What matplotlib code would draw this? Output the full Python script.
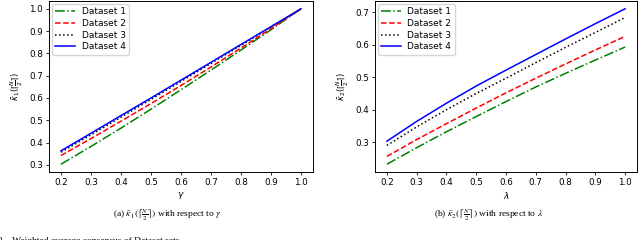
import matplotlib
matplotlib.use('Agg')
import matplotlib.pyplot as plt

plt.rcParams['mathtext.fontset'] = 'stix'

# x values
gamma = [0.2, 0.3, 0.4, 0.5, 0.6, 0.7, 0.8, 0.9, 1.0]
lam = [0.2, 0.3, 0.4, 0.5, 0.6, 0.7, 0.8, 0.9, 1.0]

# left panel: kappa_1 vs gamma
k1_d1 = [0.303, 0.383, 0.465, 0.550, 0.637, 0.725, 0.815, 0.906, 1.0]
k1_d2 = [0.342, 0.418, 0.496, 0.575, 0.656, 0.739, 0.824, 0.911, 1.0]
k1_d3 = [0.357, 0.435, 0.514, 0.594, 0.674, 0.755, 0.836, 0.918, 1.0]
k1_d4 = [0.363, 0.442, 0.521, 0.600, 0.680, 0.760, 0.840, 0.920, 1.0]

# right panel: kappa_2 vs lambda
k2_d1 = [0.232, 0.283, 0.332, 0.379, 0.425, 0.470, 0.512, 0.553, 0.593]
k2_d2 = [0.256, 0.308, 0.357, 0.405, 0.452, 0.497, 0.541, 0.584, 0.626]
k2_d3 = [0.290, 0.347, 0.400, 0.450, 0.497, 0.545, 0.592, 0.638, 0.684]
k2_d4 = [0.303, 0.364, 0.420, 0.473, 0.522, 0.570, 0.618, 0.665, 0.711]

labels = ['Dataset 1', 'Dataset 2', 'Dataset 3', 'Dataset 4']
colors = ['green', 'red', 'black', 'blue']
styles = ['-.', '--', ':', '-']

W, H = 640, 240
fig = plt.figure(figsize=(6.4, 2.4), dpi=100)
ax1 = fig.add_axes([49 / W, 1 - 172 / H, (313 - 49) / W, 171 / H])
ax2 = fig.add_axes([375 / W, 1 - 172 / H, (637 - 375) / W, 171 / H])

for ax, x, ys, xl, yl in [
    (ax1, gamma, [k1_d1, k1_d2, k1_d3, k1_d4], r'$\gamma$', r'$\bar{\kappa}_1(\lceil\frac{N}{2}\rceil)$'),
    (ax2, lam, [k2_d1, k2_d2, k2_d3, k2_d4], r'$\lambda$', r'$\bar{\kappa}_2(\lceil\frac{N}{2}\rceil)$'),
]:
    for y, lab, c, ls in zip(ys, labels, colors, styles):
        ax.plot(x, y, ls, color=c, label=lab, lw=1.1)
    ax.set_xticks([0.2, 0.3, 0.4, 0.5, 0.6, 0.7, 0.8, 0.9, 1.0])
    ax.tick_params(labelsize=6.3, length=2.5, width=0.6, pad=2)
    ax.set_xlabel(xl, fontsize=6.5, labelpad=2, math_fontfamily='dejavusans')
    ax.set_ylabel(yl, fontsize=6, labelpad=3, math_fontfamily='dejavusans')
    for s in ax.spines.values():
        s.set_linewidth(0.7)
    ax.legend(loc='upper left', prop={'size': 6.5}, handlelength=2.2, frameon=True,
              borderaxespad=0.3, labelspacing=0.3, handletextpad=0.7)

ax1.set_yticks([0.3, 0.4, 0.5, 0.6, 0.7, 0.8, 0.9, 1.0])
ax2.set_yticks([0.3, 0.4, 0.5, 0.6, 0.7])

serif = ['Liberation Serif', 'DejaVu Serif']
fig.text(167 / W, 1 - 215 / H, r'(a) $\bar{\kappa}_1(\lceil\frac{N}{2}\rceil)$ with respect to $\gamma$',
         ha='center', va='center', fontsize=6.8, family=serif)
fig.text(489 / W, 1 - 215 / H, r'(b) $\bar{\kappa}_2(\lceil\frac{N}{2}\rceil)$ with respect to $\lambda$',
         ha='center', va='center', fontsize=6.8, family=serif)
fig.text(-2 / W, 1 - 241 / H, '2.   Weighted average consensus of Dataset sets',
         ha='left', va='center', fontsize=6.8, family=serif)

fig.savefig('out.png', dpi=100)
